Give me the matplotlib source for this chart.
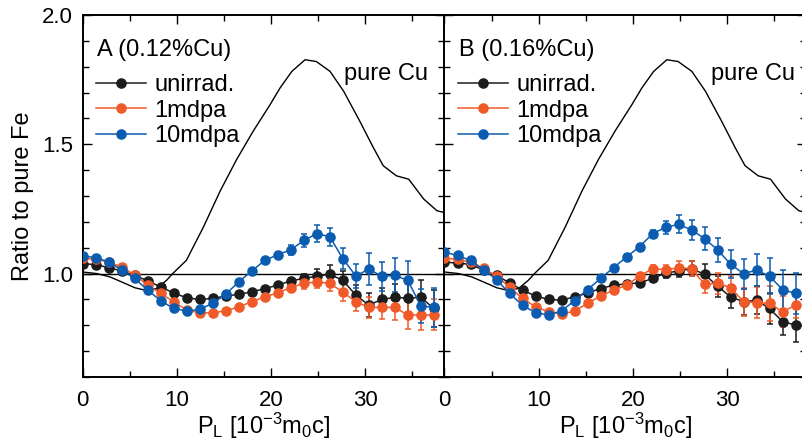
import matplotlib
matplotlib.use("Agg")
import matplotlib.pyplot as plt
from matplotlib.ticker import MultipleLocator

plt.rcParams["font.family"] = ["Liberation Sans", "DejaVu Sans"]
plt.rcParams["mathtext.fontset"] = "custom"
plt.rcParams["mathtext.rm"] = "Liberation Sans"
plt.rcParams["mathtext.it"] = "Liberation Sans:italic"

# P_L positions of the measured points (10^-3 m0c)
p_l = [0.0, 1.38, 2.76, 4.14, 5.52, 6.9, 8.28, 9.66, 11.04, 12.42, 13.8, 15.18, 16.56, 17.94,
       19.32, 20.7, 22.08, 23.46, 24.84, 26.22, 27.6, 28.98, 30.36, 31.74, 33.12, 34.5, 35.88, 37.26]

# panel A (0.12% Cu)
a_unirr = [1.038, 1.035, 1.023, 1.010, 0.993, 0.972, 0.948, 0.925, 0.906, 0.900, 0.904, 0.913, 0.920, 0.929,
           0.942, 0.955, 0.972, 0.981, 0.990, 0.997, 0.974, 0.917, 0.878, 0.900, 0.908, 0.905, 0.908, 0.865]
a_unirr_err = [0.008, 0.008, 0.008, 0.008, 0.008, 0.008, 0.008, 0.008, 0.008, 0.008, 0.008, 0.008, 0.008, 0.008,
               0.008, 0.010, 0.012, 0.018, 0.027, 0.035, 0.037, 0.038, 0.045, 0.045, 0.050, 0.055, 0.068, 0.070]
a_1mdpa = [1.060, 1.055, 1.045, 1.025, 0.995, 0.955, 0.923, 0.891, 0.859, 0.848, 0.848, 0.856, 0.871, 0.891,
           0.910, 0.925, 0.946, 0.962, 0.968, 0.962, 0.929, 0.891, 0.869, 0.869, 0.869, 0.840, 0.840, 0.840]
a_1mdpa_err = [0.008, 0.008, 0.008, 0.008, 0.008, 0.008, 0.008, 0.008, 0.008, 0.008, 0.008, 0.008, 0.008, 0.008,
               0.010, 0.012, 0.015, 0.020, 0.025, 0.030, 0.035, 0.035, 0.040, 0.045, 0.050, 0.055, 0.060, 0.060]
a_10mdpa = [1.068, 1.062, 1.045, 1.013, 0.981, 0.936, 0.895, 0.865, 0.855, 0.862, 0.885, 0.920, 0.968, 1.010,
            1.051, 1.073, 1.092, 1.128, 1.154, 1.143, 1.058, 0.991, 1.017, 0.990, 0.993, 0.974, 0.875, 0.869]
a_10mdpa_err = [0.008, 0.008, 0.008, 0.008, 0.008, 0.008, 0.008, 0.008, 0.008, 0.008, 0.008, 0.008, 0.008, 0.008,
                0.010, 0.011, 0.019, 0.026, 0.033, 0.035, 0.040, 0.046, 0.063, 0.056, 0.066, 0.074, 0.067, 0.077]

# panel B (0.16% Cu)
b_unirr = [1.045, 1.040, 1.036, 1.013, 0.993, 0.964, 0.936, 0.913, 0.900, 0.897, 0.910, 0.925, 0.942, 0.955,
           0.960, 0.964, 0.981, 1.002, 1.010, 1.019, 0.997, 0.951, 0.910, 0.891, 0.897, 0.865, 0.814, 0.801]
b_unirr_err = [0.008, 0.008, 0.008, 0.008, 0.008, 0.008, 0.008, 0.008, 0.008, 0.008, 0.008, 0.008, 0.008, 0.008,
               0.010, 0.012, 0.015, 0.020, 0.025, 0.030, 0.040, 0.040, 0.045, 0.050, 0.055, 0.060, 0.050, 0.067]
b_1mdpa = [1.060, 1.055, 1.045, 1.020, 0.990, 0.948, 0.904, 0.871, 0.852, 0.843, 0.855, 0.885, 0.913, 0.936,
           0.955, 0.990, 1.019, 1.015, 1.022, 1.019, 0.959, 0.962, 0.946, 0.891, 0.887, 0.885, 0.852, 0.878]
b_1mdpa_err = [0.008, 0.008, 0.008, 0.008, 0.008, 0.008, 0.008, 0.008, 0.008, 0.008, 0.008, 0.008, 0.008, 0.008,
               0.010, 0.012, 0.015, 0.020, 0.025, 0.030, 0.035, 0.040, 0.045, 0.055, 0.060, 0.067, 0.060, 0.050]
b_10mdpa = [1.083, 1.070, 1.051, 1.015, 0.977, 0.923, 0.878, 0.848, 0.840, 0.856, 0.895, 0.938, 0.981, 1.023,
            1.064, 1.104, 1.154, 1.179, 1.190, 1.169, 1.135, 1.092, 1.036, 1.000, 1.013, 0.990, 0.938, 0.923]
b_10mdpa_err = [0.008, 0.008, 0.008, 0.008, 0.008, 0.008, 0.008, 0.008, 0.008, 0.008, 0.008, 0.008, 0.008, 0.008,
                0.010, 0.012, 0.015, 0.026, 0.035, 0.040, 0.045, 0.047, 0.055, 0.058, 0.063, 0.070, 0.077, 0.080]

# pure Cu reference curve
cu_x = [0.0, 1.5, 2.9, 4.3, 5.55, 6.6, 7.85, 8.9, 9.55, 11.0, 12.8, 14.6, 16.35, 18.1, 19.9, 20.95, 22.2,
        23.6, 24.8, 26.25, 27.7, 29.4, 30.85, 31.9, 33.3, 34.6, 36.2, 37.6, 38.5]
cu_y = [1.006, 1.0, 0.987, 0.965, 0.945, 0.936, 0.942, 0.974, 1.0, 1.051, 1.179, 1.320, 1.442, 1.551, 1.654,
        1.718, 1.782, 1.827, 1.820, 1.782, 1.705, 1.59, 1.487, 1.417, 1.378, 1.365, 1.288, 1.243, 1.235]

series_labels = ["unirrad.", "1mdpa", "10mdpa"]
colors = ["#1c1c1c", "#f05a28", "#0b5cb0"]

W, H = 803, 448
fig = plt.figure(figsize=(W / 100, H / 100), dpi=100)
ax_w = 361.8 / W
ax_b = (H - 377) / H
ax_h = 362 / H
ax_a = fig.add_axes([82.7 / W, ax_b, ax_w, ax_h])
ax_bp = fig.add_axes([444.5 / W, ax_b, ax_w, ax_h])


def panel(ax, titulo, dados, erros, cu_pos):
    ax.axhline(1.0, color="black", lw=1.0, zorder=1)
    ax.plot(cu_x, cu_y, color="black", lw=1.0, zorder=1)
    for y, e, c, lab in zip(dados, erros, colors, series_labels):
        ax.errorbar(p_l, y, yerr=e, fmt="none", ecolor=c, elinewidth=1.1, capsize=2.4, capthick=1.1, zorder=2)
        ax.plot(p_l, y, color=c, lw=1.1, marker="o", ms=6.6, label=lab, zorder=3)
    ax.set_xlim(0, 38.4)
    ax.set_ylim(0.6, 2.0)
    ax.xaxis.set_major_locator(MultipleLocator(10))
    ax.xaxis.set_minor_locator(MultipleLocator(5))
    ax.yaxis.set_major_locator(MultipleLocator(0.5))
    ax.yaxis.set_minor_locator(MultipleLocator(0.1))
    ax.tick_params(which="both", direction="in", top=True, right=True, width=1.0, labelsize=16)
    ax.tick_params(which="major", length=6.5)
    ax.tick_params(which="minor", length=4)
    ax.tick_params(axis="x", pad=9)
    ax.tick_params(axis="y", pad=7)
    for s in ax.spines.values():
        s.set_linewidth(1.4)
    ax.set_xlabel(r"P$_{\mathrm{L}}$ [10$^{\mathrm{-3}}$m$_{\mathrm{0}}$c]", fontsize=17, labelpad=0)
    ax.text(0.040, 0.904, titulo, transform=ax.transAxes, fontsize=17, va="center", ha="left")
    ax.text(cu_pos, 0.820, "pure Cu", transform=ax.transAxes, fontsize=17, va="baseline", ha="left")
    ax.legend(loc="upper left", bbox_to_anchor=(0.038, 0.836), frameon=False, fontsize=17,
              numpoints=1, handlelength=2.1, handletextpad=0.35, labelspacing=0.14,
              borderpad=0, borderaxespad=0)


panel(ax_a, "A (0.12%Cu)", [a_unirr, a_1mdpa, a_10mdpa], [a_unirr_err, a_1mdpa_err, a_10mdpa_err], 0.723)
panel(ax_bp, "B (0.16%Cu)", [b_unirr, b_1mdpa, b_10mdpa], [b_unirr_err, b_1mdpa_err, b_10mdpa_err], 0.737)

ax_a.set_ylabel("Ratio to pure Fe", fontsize=17, labelpad=6)
ax_bp.tick_params(axis="y", labelleft=False)

fig.savefig("out.png", dpi=100)
